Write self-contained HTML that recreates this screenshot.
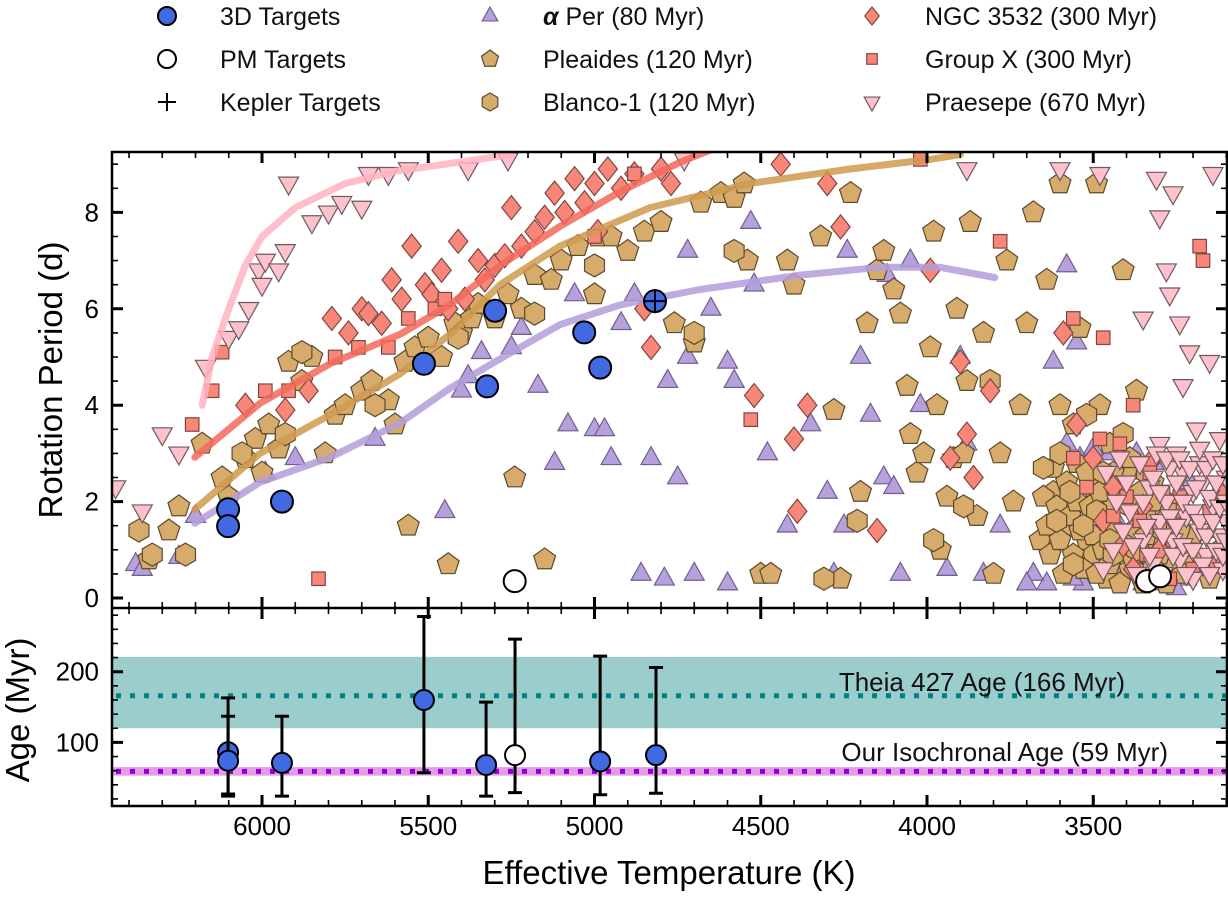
<!DOCTYPE html>
<html><head><meta charset="utf-8"><style>
body{margin:0;background:#fff;}
svg{display:block;font-family:"Liberation Sans",sans-serif;}
</style></head><body>
<svg id="c" width="1228" height="900" viewBox="0 0 1228 900"></svg>
<script>
const aPer=[[6380,0.7],[6360,0.6],[6250,0.85],[6200,1.7],[5990,2.6],[5900,2.9],[5660,3.3],[5450,1.8],[5400,4.3],[5380,4.6],[5340,5.1],[5250,5.2],[5220,5.6],[5170,4.4],[5120,2.8],[5080,3.6],[5060,6.3],[5000,3.5],[4970,3.5],[4950,2.9],[4920,5.7],[4880,6.3],[4830,2.9],[4780,4.5],[4700,0.5],[4860,0.5],[4790,0.4],[4750,2.5],[4720,5.0],[4720,7.2],[4650,6.0],[4600,4.9],[4580,4.5],[4530,7.8],[4520,6.5],[4600,0.3],[4480,3.0],[4420,1.5],[4350,3.6],[4300,2.2],[4280,0.5],[4250,1.5],[4240,7.2],[4200,5.0],[4170,3.8],[4130,2.5],[4120,6.7],[4100,2.3],[4080,0.5],[4050,7.0],[4020,4.0],[3940,0.6],[3900,5.0],[3880,3.2],[3830,0.5],[3780,1.5],[3620,4.9],[3580,6.9],[3550,5.3],[3530,0.3],[3480,2.1],[3460,3.0],[3430,0.4],[3420,1.5],[3400,0.6],[3380,2.6],[3360,1.0],[3350,0.3],[3330,2.0],[3300,0.5],[3280,1.2],[3250,0.8],[3220,0.4],[3210,2.4],[3600,3.0],[3580,3.2],[3540,2.9],[3500,3.1],[3450,2.2],[3420,0.5],[3370,3.0],[3330,0.3],[3290,2.8],[3250,0.2],[3560,0.4],[3640,0.3],[3680,0.5],[3700,0.3]];
const pleiades=[[6340,0.8],[6280,1.4],[6250,1.9],[6180,3.2],[6120,2.5],[6100,2.1],[6050,2.9],[6020,3.3],[6000,2.6],[5980,3.6],[5950,3.1],[5920,4.9],[5880,4.5],[5850,5.0],[5810,3.0],[5780,3.8],[5750,4.0],[5700,4.3],[5670,4.5],[5620,4.1],[5600,3.6],[5570,4.9],[5560,1.5],[5540,5.2],[5500,5.4],[5460,5.0],[5440,0.7],[5420,5.7],[5400,5.5],[5370,5.8],[5350,6.1],[5300,5.8],[5260,6.3],[5240,2.5],[5220,6.0],[5180,6.7],[5150,0.8],[5130,6.6],[5100,7.0],[5050,7.3],[5000,6.3],[4990,7.5],[4950,7.5],[4900,7.2],[4850,7.6],[4800,7.8],[4760,5.7],[4700,5.3],[4680,8.2],[4620,8.4],[4580,8.3],[4550,8.6],[4540,7.0],[4500,0.5],[4470,0.5],[4420,7.0],[4400,6.5],[4320,7.5],[4280,3.9],[4260,0.4],[4230,8.4],[4200,2.2],[4180,5.7],[4150,6.8],[4130,7.2],[4100,6.4],[4080,5.9],[4060,4.4],[4050,3.4],[4030,2.6],[4010,3.0],[3990,5.2],[3980,7.6],[3970,4.0],[3960,1.0],[3940,2.1],[3920,2.9],[3910,6.0],[3890,3.0],[3880,4.5],[3870,7.8],[3850,1.7],[3830,5.5],[3800,0.5],[3780,3.0],[3760,7.0],[3740,2.0],[3720,4.0],[3700,5.7],[3680,8.0],[3660,1.2],[3640,6.6],[3620,2.2],[3600,4.0],[3600,8.6],[3580,1.5],[3560,3.6],[3550,2.8],[3540,5.6],[3520,1.2],[3500,0.9],[3500,2.3],[3490,8.6],[3480,4.0],[3470,1.7],[3460,0.4],[3450,3.2],[3440,2.0],[3420,1.0],[3410,6.8],[3400,2.6],[3390,0.6],[3380,1.4],[3370,4.3],[3360,2.2],[3350,0.3],[3340,1.8],[3330,0.9],[3320,2.4],[3310,1.2],[3300,0.4],[3290,1.6],[3280,2.0],[3270,0.7],[3250,1.1],[3230,0.5],[3200,1.3],[3180,0.8],[3150,0.4],[3120,1.0],[3650,2.1],[3640,1.5],[3630,0.9],[3620,2.7],[3610,1.9],[3600,1.2],[3590,0.5],[3580,2.4],[3570,1.7],[3560,0.9],[3550,2.0],[3540,1.4],[3530,0.6],[3520,2.6],[3510,1.9],[3500,1.3],[3490,0.5],[3480,2.2],[3470,1.0],[3460,1.6],[3450,0.7],[3440,2.6],[3430,1.4],[3420,0.3],[3410,2.0],[3400,1.1],[3390,2.9],[3380,0.8],[3370,1.8],[3360,0.5],[3340,1.3],[3320,2.0],[3300,0.9],[3280,0.3],[3260,1.9],[3240,1.4],[3220,0.9]];
const blanco=[[6370,1.4],[6330,0.9],[6230,0.9],[6060,3.0],[5930,3.4],[5880,5.1],[5660,4.0],[5410,5.4],[5180,5.9],[5000,6.9],[4700,5.5],[4580,7.2],[4310,0.4],[4210,1.6],[3980,1.2],[3890,1.9],[3810,4.5],[3650,2.7],[3600,3.0],[3560,0.7],[3520,3.8],[3490,1.8],[3470,2.6],[3440,0.9],[3410,3.4],[3390,1.9],[3370,1.0],[3340,2.6],[3320,0.6],[3290,1.4],[3610,1.6],[3570,2.2],[3530,1.5],[3450,1.2],[3430,2.3]];
const ngc=[[6050,4.0],[5930,3.9],[5860,4.3],[5790,5.8],[5740,5.5],[5700,6.0],[5680,5.9],[5640,5.7],[5610,6.6],[5580,6.2],[5550,7.3],[5510,6.5],[5490,6.3],[5460,6.8],[5440,6.0],[5410,7.4],[5390,6.2],[5350,7.0],[5330,6.6],[5300,6.9],[5270,7.1],[5250,8.1],[5220,7.3],[5180,7.6],[5150,7.9],[5120,8.4],[5090,8.0],[5060,8.7],[5030,8.2],[5000,8.6],[4990,7.6],[4960,8.9],[4920,8.5],[4880,8.8],[4850,6.0],[4830,5.2],[4800,8.9],[4770,8.6],[4520,4.2],[4440,9.0],[4400,3.3],[4360,4.0],[4300,8.6],[4260,7.7],[4150,1.4],[3990,6.8],[3930,2.9],[3900,4.9],[3880,3.4],[3860,2.5],[3810,4.3],[3590,5.5],[3550,3.6],[3500,2.9],[3470,1.6],[3440,2.3],[3410,1.1],[3380,0.6],[3350,1.9],[3330,2.8],[3300,1.0],[4390,1.8]];
const groupX=[[6210,3.6],[6150,4.3],[6120,5.1],[5990,4.3],[5920,4.3],[5830,0.4],[5780,5.0],[5710,5.2],[5620,5.2],[5560,5.8],[5480,6.0],[5450,6.2],[5000,7.5],[4880,8.8],[4530,3.7],[4020,9.1],[3780,7.4],[3560,5.8],[3470,5.4],[3420,3.2],[3380,4.0],[3330,2.6],[3300,1.5],[3270,0.4],[3240,2.1],[3210,1.0],[3180,7.3],[3170,7.0],[3150,1.8],[3130,0.7],[3560,2.9],[3520,2.3],[3480,3.3],[3440,1.7],[3400,2.1],[3360,1.6],[3340,0.9],[3290,2.2],[3260,1.2],[3230,1.8],[3200,0.6],[3160,1.4],[3120,2.2],[3100,0.9]];
const praesepe=[[6440,2.3],[6360,1.8],[6300,3.4],[6250,3.0],[6170,4.8],[6100,5.4],[6070,5.6],[6040,6.0],[6010,6.8],[6000,6.5],[5990,7.0],[5950,6.8],[5930,7.2],[5920,8.6],[5850,7.8],[5800,8.0],[5760,8.2],[5700,8.1],[5680,8.8],[5620,8.8],[5560,8.9],[5380,8.9],[5260,9.1],[4730,9.1],[3880,8.9],[3600,8.9],[3480,8.8],[3350,5.8],[3310,8.7],[3300,7.9],[3280,6.8],[3270,6.3],[3260,8.4],[3240,5.7],[3230,4.4],[3210,5.1],[3190,3.5],[3180,2.8],[3150,4.9],[3140,8.8],[3120,3.3],[3100,2.5],[3330,2.3],[3300,1.6],[3280,2.0],[3260,1.2],[3240,0.8],[3220,1.7],[3200,2.2],[3180,1.4],[3160,0.9],[3140,1.9],[3120,1.3],[3110,0.6],[3300,3.2],[3250,3.0],[3230,2.6],[3170,2.4],[3350,1.2],[3320,0.7],[3270,2.7],[3200,0.4],[3100,1.6],[3420,2.9],[3400,2.4],[3390,1.8],[3380,1.1],[3370,0.5],[3360,2.8],[3350,2.0],[3340,1.5],[3330,0.9],[3320,2.5],[3310,3.0],[3300,2.2],[3290,1.3],[3290,0.5],[3280,2.9],[3270,1.7],[3260,0.9],[3250,2.4],[3250,1.5],[3240,2.9],[3230,2.0],[3230,1.1],[3220,0.5],[3210,2.7],[3200,1.8],[3200,1.0],[3190,2.3],[3180,3.1],[3180,1.6],[3170,0.7],[3160,2.7],[3160,1.3],[3150,2.1],[3150,0.5],[3140,2.9],[3140,1.6],[3130,1.0],[3130,2.4],[3120,1.9],[3110,0.9],[3110,2.8],[3100,2.0],[3100,1.2],[3410,1.4],[3440,1.0],[3460,2.6],[3470,0.6],[3430,2.0]];
const curvePraesepe=[[6180,4.0],[6150,5.0],[6100,6.0],[6050,6.9],[6000,7.5],[5900,8.1],[5750,8.6],[5600,8.85],[5400,9.05],[5250,9.2]];
const curveNgc=[[6202,2.92],[6006,4.04],[5795,4.86],[5585,5.47],[5435,6.08],[5284,6.9],[5104,7.71],[4923,8.43],[4743,9.04],[4650,9.3]];
const curvePleiades=[[6202,1.84],[6006,3.0],[5795,3.8],[5585,4.65],[5435,5.47],[5284,6.5],[5104,7.3],[4833,8.1],[4532,8.6],[4232,8.9],[3991,9.1],[3900,9.2]];
const curveAPer=[[6202,1.55],[6006,2.4],[5795,2.92],[5585,3.63],[5435,4.35],[5284,4.96],[5104,5.67],[4923,6.08],[4683,6.4],[4382,6.7],[4141,6.86],[3961,6.86],[3796,6.65]];
const target3dTeff=[6102,6102,5940,5513,5323,5299,5031,4983,4818];
const target3dProt=[1.84,1.49,2.0,4.86,4.39,5.96,5.51,4.78,6.16];
const pmTeff=[5240,3338,3299];
const pmProt=[0.35,0.35,0.45];
const keplerTeff=[4818];
const keplerProt=[6.16];
const ageTeff=[6102,6102,5940,5513,5326,4983,4815];
const ageVal=[86,74,71,160,68,73,82];
const ageLo=[27,24,24,57,24,26,28];
const ageHi=[163,137,137,278,157,222,206];
const pmAgeTeff=[5239];
const pmAgeVal=[82];
const pmAgeLo=[29];
const pmAgeHi=[246];
const theiaAge=166, theiaLo=120, theiaHi=221;
const isoAge=59, isoLo=53, isoHi=65;
const xTickLabels=[6000,5500,5000,4500,4000,3500];
const pTickLabels=[0,2,4,6,8];
const ageTickLabels=[100,200];

const L=112,R=1227,T1=152,B1=608,B2=806;
const X=t=>262+(6000-t)*0.3325;
const Y1=p=>598-p*48.2;
const Y2=a=>742.4-(a-100)*0.707;
const svg=document.getElementById('c');
const NS='http://www.w3.org/2000/svg';
function mk(tag,at,parent){const e=document.createElementNS(NS,tag);for(const k in at)e.setAttribute(k,at[k]);(parent||svg).appendChild(e);return e;}

const defs=mk('defs',{});
const cp=mk('clipPath',{id:'cp1'},defs);mk('rect',{x:L,y:T1,width:R-L,height:B1-T1},cp);
const cp2=mk('clipPath',{id:'cp2'},defs);mk('rect',{x:L,y:B1,width:R-L,height:B2-B1},cp2);
const g1=mk('g',{'clip-path':'url(#cp1)'});



function shape(type,cx,cy,s,fill,stroke,parent){
  let e;
  if(type==='tri'){e=mk('polygon',{points:`${cx},${cy-s} ${cx+s*0.87},${cy+s*0.55} ${cx-s*0.87},${cy+s*0.55}`},parent);}
  else if(type==='dtri'){e=mk('polygon',{points:`${cx},${cy+s} ${cx+s*0.87},${cy-s*0.55} ${cx-s*0.87},${cy-s*0.55}`},parent);}
  else if(type==='pent'){let p=[];for(let i=0;i<5;i++){const a=-Math.PI/2+i*2*Math.PI/5;p.push((cx+s*Math.cos(a))+','+(cy+s*Math.sin(a)));}e=mk('polygon',{points:p.join(' ')},parent);}
  else if(type==='hex'){let p=[];for(let i=0;i<6;i++){const a=-Math.PI/2+i*Math.PI/3;p.push((cx+s*Math.cos(a))+','+(cy+s*Math.sin(a)));}e=mk('polygon',{points:p.join(' ')},parent);}
  else if(type==='dia'){e=mk('polygon',{points:`${cx},${cy-s} ${cx+s*0.8},${cy} ${cx},${cy+s} ${cx-s*0.8},${cy}`},parent);}
  else if(type==='sq'){e=mk('rect',{x:cx-s*0.75,y:cy-s*0.75,width:s*1.5,height:s*1.5},parent);}
  else {e=mk('circle',{cx:cx,cy:cy,r:s},parent);}
  e.setAttribute('fill',fill);e.setAttribute('stroke',stroke);e.setAttribute('stroke-width',1.2);
  return e;
}
const series=[
 {d:aPer,t:'tri',s:11.5,f:'#b7a1dc',k:'#6f5f8f',n:'alpha-per-point'},
 {d:pleiades,t:'pent',s:11.5,f:'#d6ab6c',k:'#5c4a2c',n:'pleiades-point'},
 {d:blanco,t:'hex',s:11.5,f:'#d6ab6c',k:'#5c4a2c',n:'blanco-1-point'},
 {d:ngc,t:'dia',s:12,f:'#f8877a',k:'#7f4640',n:'ngc-3532-point'},
 {d:groupX,t:'sq',s:9,f:'#f8877a',k:'#7f4640',n:'group-x-point'},
 {d:praesepe,t:'dtri',s:11.5,f:'#ffc2cc',k:'#6e5a5e',n:'praesepe-point'}
];
series.forEach(sr=>{sr.d.forEach(p=>{
  const e=shape(sr.t,X(p[0]),Y1(p[1]),sr.s,sr.f,sr.k,g1);
  
  
});});
const curves=[[curvePraesepe,'#ffb3c0','praesepe-gyrochrone'],[curveNgc,'#f4685a','ngc-3532-gyrochrone'],[curvePleiades,'#cf9a4e','pleiades-gyrochrone'],[curveAPer,'#b39ddb','alpha-per-gyrochrone']];
curves.forEach(c=>{
  let d='';c[0].forEach((p,i)=>{d+=(i?' L':'M')+X(p[0]).toFixed(1)+','+Y1(p[1]).toFixed(1);});
  const e=mk('path',{d:d,fill:'none',stroke:c[1],'stroke-width':7,'stroke-linecap':'round','stroke-linejoin':'round',opacity:0.85},g1);
  
  
});
target3dTeff.forEach((t,i)=>{
  const e=shape('circ',X(t),Y1(target3dProt[i]),11,'#4169e1','#000',g1);e.setAttribute('stroke-width',2);
  
  
});
pmTeff.forEach((t,i)=>{
  const e=shape('circ',X(t),Y1(pmProt[i]),11,'#fff','#000',g1);e.setAttribute('stroke-width',2);
  
  
});
keplerTeff.forEach((t,i)=>{
  const cx=X(t),cy=Y1(keplerProt[i]);
  const e=mk('path',{d:`M${cx-12},${cy} H${cx+12} M${cx},${cy-12} V${cy+12}`,stroke:'#000','stroke-width':2},g1);
  
  
});

// bottom panel
const g2=mk('g',{'clip-path':'url(#cp2)'});


let e=mk('rect',{x:L,y:Y2(theiaHi),width:R-L,height:Y2(theiaLo)-Y2(theiaHi),fill:'#9ccdcd'},g2);

e=mk('line',{x1:L+4,x2:R,y1:Y2(theiaAge),y2:Y2(theiaAge),stroke:'#008080','stroke-width':5,'stroke-dasharray':'5 9'},g2);

e=mk('rect',{x:L,y:Y2(isoHi),width:R-L,height:Y2(isoLo)-Y2(isoHi),fill:'#e49be8'},g2);

e=mk('line',{x1:L+4,x2:R,y1:Y2(isoAge),y2:Y2(isoAge),stroke:'#9400d3','stroke-width':5,'stroke-dasharray':'5 9'},g2);

function ebar(t,v,lo,hi,fill,name){
  const cx=X(t);
  const b=mk('path',{d:`M${cx},${Y2(lo)} V${Y2(hi)} M${cx-7},${Y2(lo)} H${cx+7} M${cx-7},${Y2(hi)} H${cx+7}`,stroke:'#000','stroke-width':3,fill:'none'},g2);
  
  
  const c=mk('circle',{cx:cx,cy:Y2(v),r:10,fill:fill,stroke:'#000','stroke-width':2},g2);
  
  
}
ageTeff.forEach((t,i)=>ebar(t,ageVal[i],ageLo[i],ageHi[i],'#4169e1','3d-target-age'));
pmAgeTeff.forEach((t,i)=>ebar(t,pmAgeVal[i],pmAgeLo[i],pmAgeHi[i],'#fff','pm-target-age'));
e=mk('text',{x:1125,y:691,'text-anchor':'end','font-size':26,fill:'#111'});e.textContent='Theia 427 Age (166 Myr)';

e=mk('text',{x:1168,y:761,'text-anchor':'end','font-size':26,fill:'#111'});e.textContent='Our Isochronal Age (59 Myr)';


// frames & ticks
const ax=mk('g',{stroke:'#000',fill:'none'});


mk('rect',{x:L,y:T1,width:R-L,height:B2-T1,'stroke-width':2.5},ax);
mk('line',{x1:L,x2:R,y1:B1,y2:B1,'stroke-width':2.5},ax);
let td='',tdM='';
for(let t=6400;t>=3100;t-=100){const x=X(t);if(x<L||x>R)continue;const maj=t%500===0;const l=maj?11:6;
  const s=`M${x},${T1} v${l} M${x},${B1} v${-l} M${x},${B1} v${l} M${x},${B2} v${-l} `;if(maj)tdM+=s;else td+=s;}
for(let p=0;p<=9;p+=0.5){const y=Y1(p);const maj=p%2===0;const l=maj?11:6;const s=`M${L},${y} h${l} M${R},${y} h${-l} `;if(maj)tdM+=s;else td+=s;}
for(let a=20;a<=280;a+=20){const y=Y2(a);if(y<B1+2||y>B2-2)continue;const maj=a%100===0;const l=maj?11:6;const s=`M${L},${y} h${l} M${R},${y} h${-l} `;if(maj)tdM+=s;else td+=s;}
mk('path',{d:td,'stroke-width':1.6},ax);mk('path',{d:tdM,'stroke-width':3},ax);

xTickLabels.forEach(t=>{const e=mk('text',{x:X(t),y:835,'text-anchor':'middle','font-size':26,fill:'#000'});e.textContent=t;
  });
pTickLabels.forEach(p=>{const e=mk('text',{x:99,y:Y1(p)+9,'text-anchor':'end','font-size':26,fill:'#000'});e.textContent=p;
  });
ageTickLabels.forEach(a=>{const e=mk('text',{x:99,y:Y2(a)+9,'text-anchor':'end','font-size':26,fill:'#000'});e.textContent=a;
  });
e=mk('text',{x:669,y:884,'text-anchor':'middle','font-size':33,fill:'#000'});e.textContent='Effective Temperature (K)';

e=mk('text',{x:0,y:0,transform:'translate(62,380) rotate(-90)','text-anchor':'middle','font-size':33,fill:'#000'});e.textContent='Rotation Period (d)';

e=mk('text',{x:0,y:0,transform:'translate(29,710) rotate(-90)','text-anchor':'middle','font-size':33,fill:'#000'});e.textContent='Age (Myr)';


// legend
const lg=mk('g',{});


const rows=[16,59,102];
const leg=[
 [167,'circ','#4169e1','#000','3D Targets'],[167,'circ','#fff','#000','PM Targets'],[167,'plus','','','Kepler Targets'],
 [490,'tri','#b7a1dc','#6f5f8f','Per (80 Myr)'],[490,'pent','#d6ab6c','#5c4a2c','Pleaides (120 Myr)'],[490,'hex','#d6ab6c','#5c4a2c','Blanco-1 (120 Myr)'],
 [872,'dia','#f8877a','#7f4640','NGC 3532 (300 Myr)'],[872,'sq','#f8877a','#7f4640','Group X (300 Myr)'],[872,'dtri','#ffc2cc','#6e5a5e','Praesepe (670 Myr)']
];
leg.forEach((l,i)=>{
  const y=rows[i%3];
  const it=mk('g',{},lg);
  
  
  if(l[1]==='plus'){mk('path',{d:`M${l[0]-9},${y} H${l[0]+9} M${l[0]},${y-9} V${y+9}`,stroke:'#000','stroke-width':2},it);}
  else{const s=shape(l[1],l[0],y,l[1]==='circ'?9:(l[1]==='sq'?7:9),l[2],l[3],it);if(l[1]==='circ')s.setAttribute('stroke-width',2);}
  const tx=mk('text',{x:l[0]+53,y:y+9,'font-size':25,fill:'#111'},it);
  if(i===3){
    const a=mk('tspan',{'font-style':'italic','font-weight':'bold'},tx);a.textContent='\u03B1 ';
    const b=mk('tspan',{},tx);b.textContent=l[4];
  } else tx.textContent=l[4];
});
</script>
</body></html>
